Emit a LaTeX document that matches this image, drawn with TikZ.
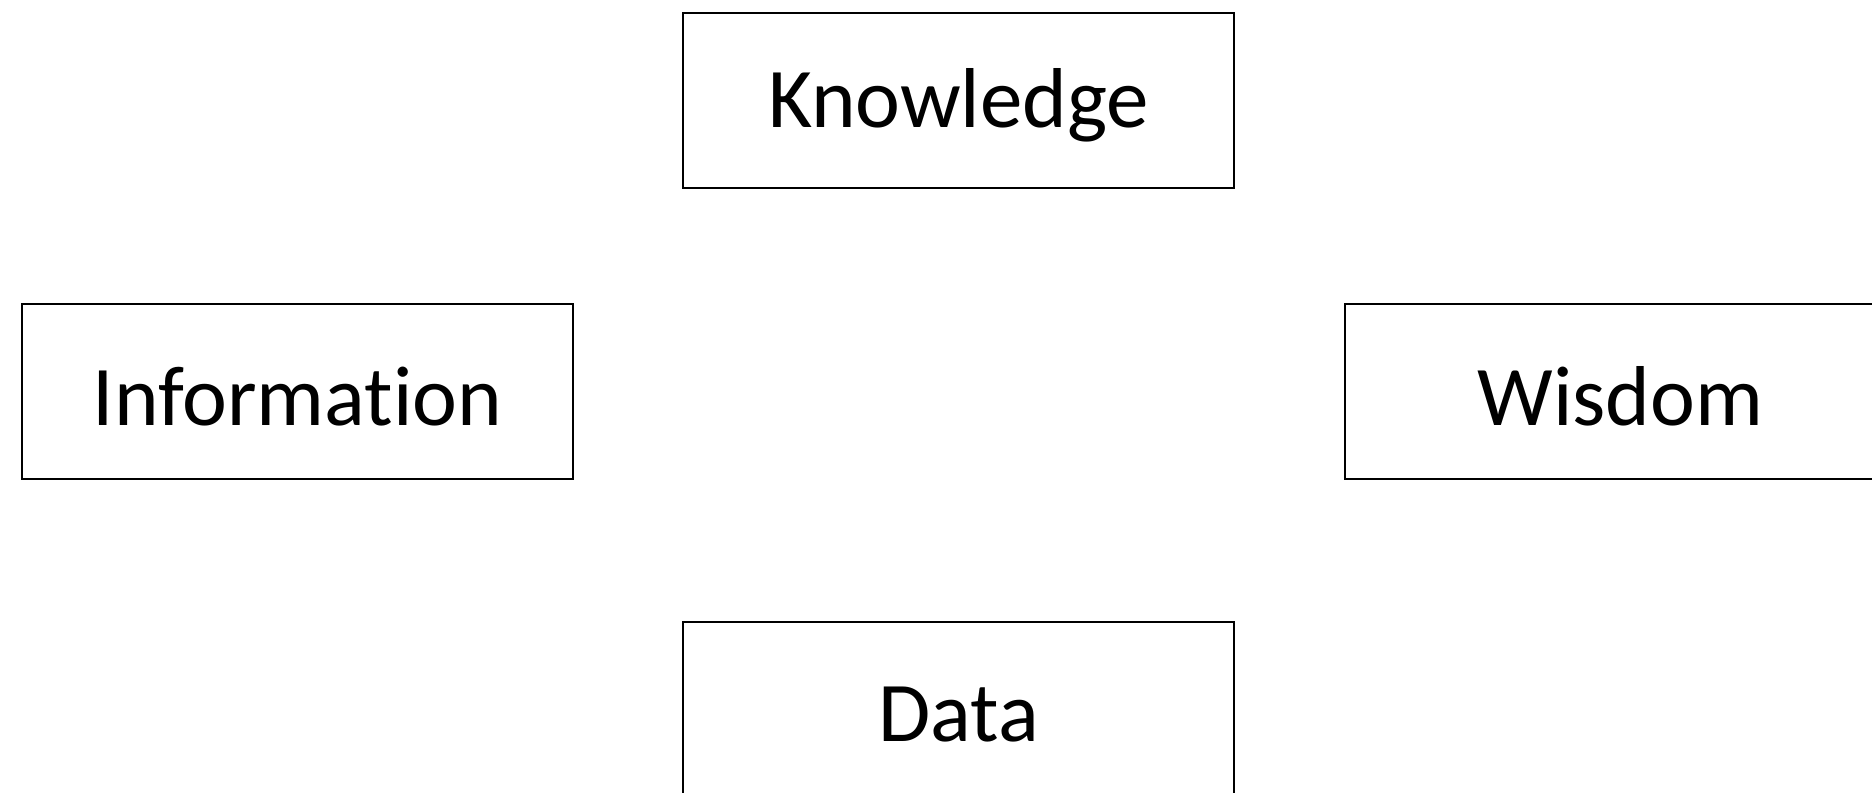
\documentclass[tikz,border=0pt]{standalone}
\usepackage{fontspec}
\setmainfont[RawFeature={-liga}]{Carlito}
\begin{document}
\begin{tikzpicture}[x=0.5pt,y=-0.5pt,
  dikwbox/.style={draw=black,line width=1pt,rectangle,inner sep=0pt,
    minimum width=275.5pt,minimum height=87.7pt,anchor=north west},
  dikwtext/.style={font=\fontsize{42.5}{50}\selectfont,inner sep=0pt,yshift=-2.5pt}]
\clip (0,0) rectangle (1872,792);
\fill[white] (0,0) rectangle (1872,792);
\node[dikwbox] (knowledge) at (682,12) {};
\node[dikwtext] (kt) at (knowledge.center) {Knowledge};
\node[dikwbox] (information) at (21,303) {};
\node[dikwtext] (it) at (information.center) {Information};
\node[dikwbox] (wisdom) at (1344,303) {};
\node[dikwtext] (wt) at (wisdom.center) {Wisdom};
\node[dikwbox] (data) at (682,621) {};
\node[dikwtext] (dt) at (data.center) {Data};
\end{tikzpicture}
\end{document}
